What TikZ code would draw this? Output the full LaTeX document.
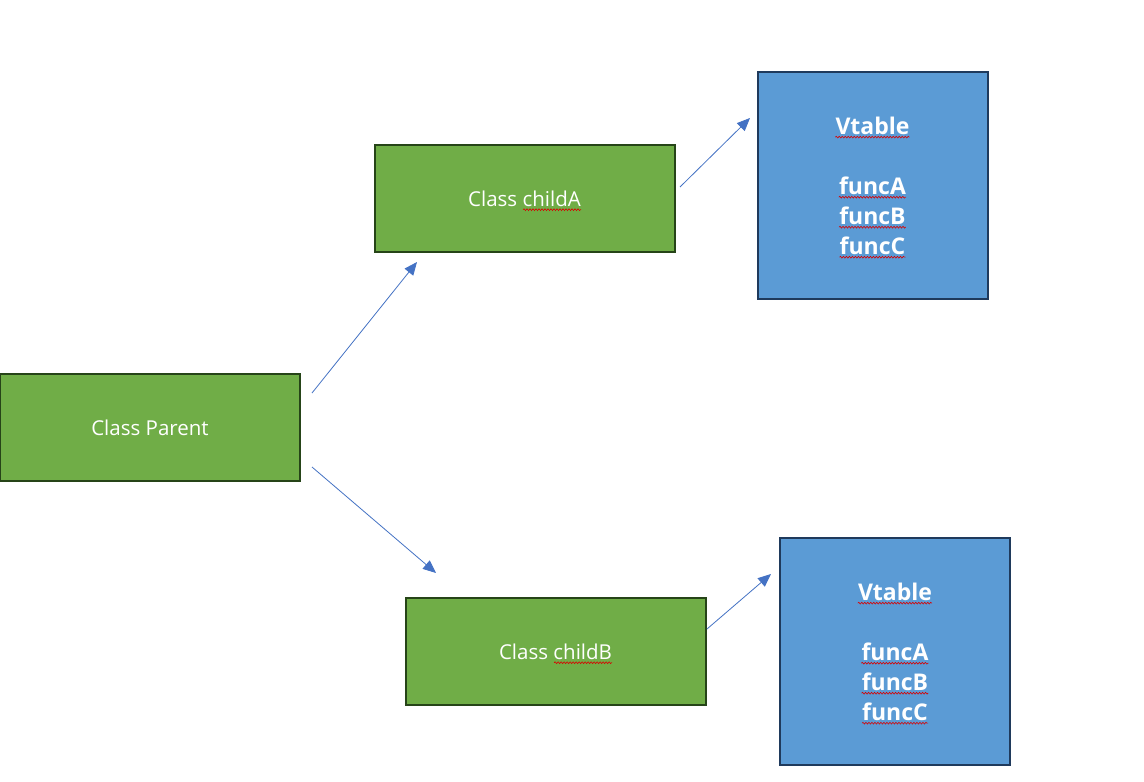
\documentclass[tikz,border=0pt]{standalone}
\usepackage{fontspec}
\setmainfont{Open Sans}
\usetikzlibrary{arrows.meta,decorations.pathmorphing}
\definecolor{gfill}{HTML}{70AD47}
\definecolor{gline}{HTML}{264418}
\definecolor{bfill}{HTML}{5B9BD5}
\definecolor{bline}{HTML}{1F3A5C}
\definecolor{arr}{HTML}{4472C4}
\tikzset{
  greenbox/.style={draw=gline, line width=2pt, fill=gfill, minimum width=300pt, minimum height=107pt, inner sep=0pt},
  gtxt/.style={text=white, font=\fontsize{20.5}{24}\selectfont, inner sep=0pt},
  bluebox/.style={draw=bline, line width=2pt, fill=bfill, minimum width=230pt, minimum height=227pt, inner sep=0pt},
  vtxt/.style={text=white, font=\fontsize{23}{27}\selectfont\bfseries, inner sep=0pt},
  conn/.style={draw=arr, line width=0.8pt, -{Triangle[length=13pt,width=11pt]}},
  wavy/.style={draw=red!85!black, line width=0.6pt, decorate, decoration={snake, amplitude=0.9pt, segment length=3pt}},
}
\begin{document}
\begin{tikzpicture}[x=1pt,y=-1pt]
\useasboundingbox[fill=white] (0,0) rectangle (1144,782);
% boxes
\node[greenbox] (parent) at (150,427) {};
\node[greenbox] (childA) at (524.5,198) {};
\node[greenbox] (childB) at (555.5,651) {};
\node[bluebox] (vtA) at (872.5,185) {};
\node[bluebox] (vtB) at (895,651) {};
% green texts
\node[gtxt] (tP) at ([yshift=-1pt]parent.center) {Class Parent};
\node[gtxt] (tA) at ([yshift=-1pt]childA.center) {Class childA};
\node[gtxt] (tB) at ([yshift=-1pt]childB.center) {Class childB};
\draw[wavy] ([xshift=-58pt,yshift=-3pt]tA.base east) -- ([yshift=-3pt]tA.base east);
\draw[wavy] ([xshift=-58pt,yshift=-3pt]tB.base east) -- ([yshift=-3pt]tB.base east);
% vtable texts A
\node[vtxt] (vA0) at (872.5,126) {Vtable};
\node[vtxt] (vA1) at (872.5,186) {funcA};
\node[vtxt] (vA2) at (872.5,216) {funcB};
\node[vtxt] (vA3) at (872.5,246) {funcC};
% vtable texts B
\node[vtxt] (vB0) at (895,592) {Vtable};
\node[vtxt] (vB1) at (895,652) {funcA};
\node[vtxt] (vB2) at (895,682) {funcB};
\node[vtxt] (vB3) at (895,712) {funcC};
% spelling underlines
\foreach \n in {vA0,vA1,vA2,vA3,vB0,vB1,vB2,vB3}{
  \draw[wavy] ([yshift=-2.5pt]\n.base west) -- ([yshift=-2.5pt]\n.base east);
}
% connector end coordinates
\coordinate (p1) at (312,393);
\coordinate (a1) at (417,262);
\coordinate (p2) at (312,467);
\coordinate (b1) at (436,573);
\coordinate (ca1) at (680,187);
\coordinate (va1) at (750,118);
\coordinate (cb1) at (707,629);
\coordinate (vb1) at (771,574);
\draw[conn] (p1) -- (a1);
\draw[conn] (p2) -- (b1);
\draw[conn] (ca1) -- (va1);
\draw[conn] (cb1) -- (vb1);
\end{tikzpicture}
\end{document}
